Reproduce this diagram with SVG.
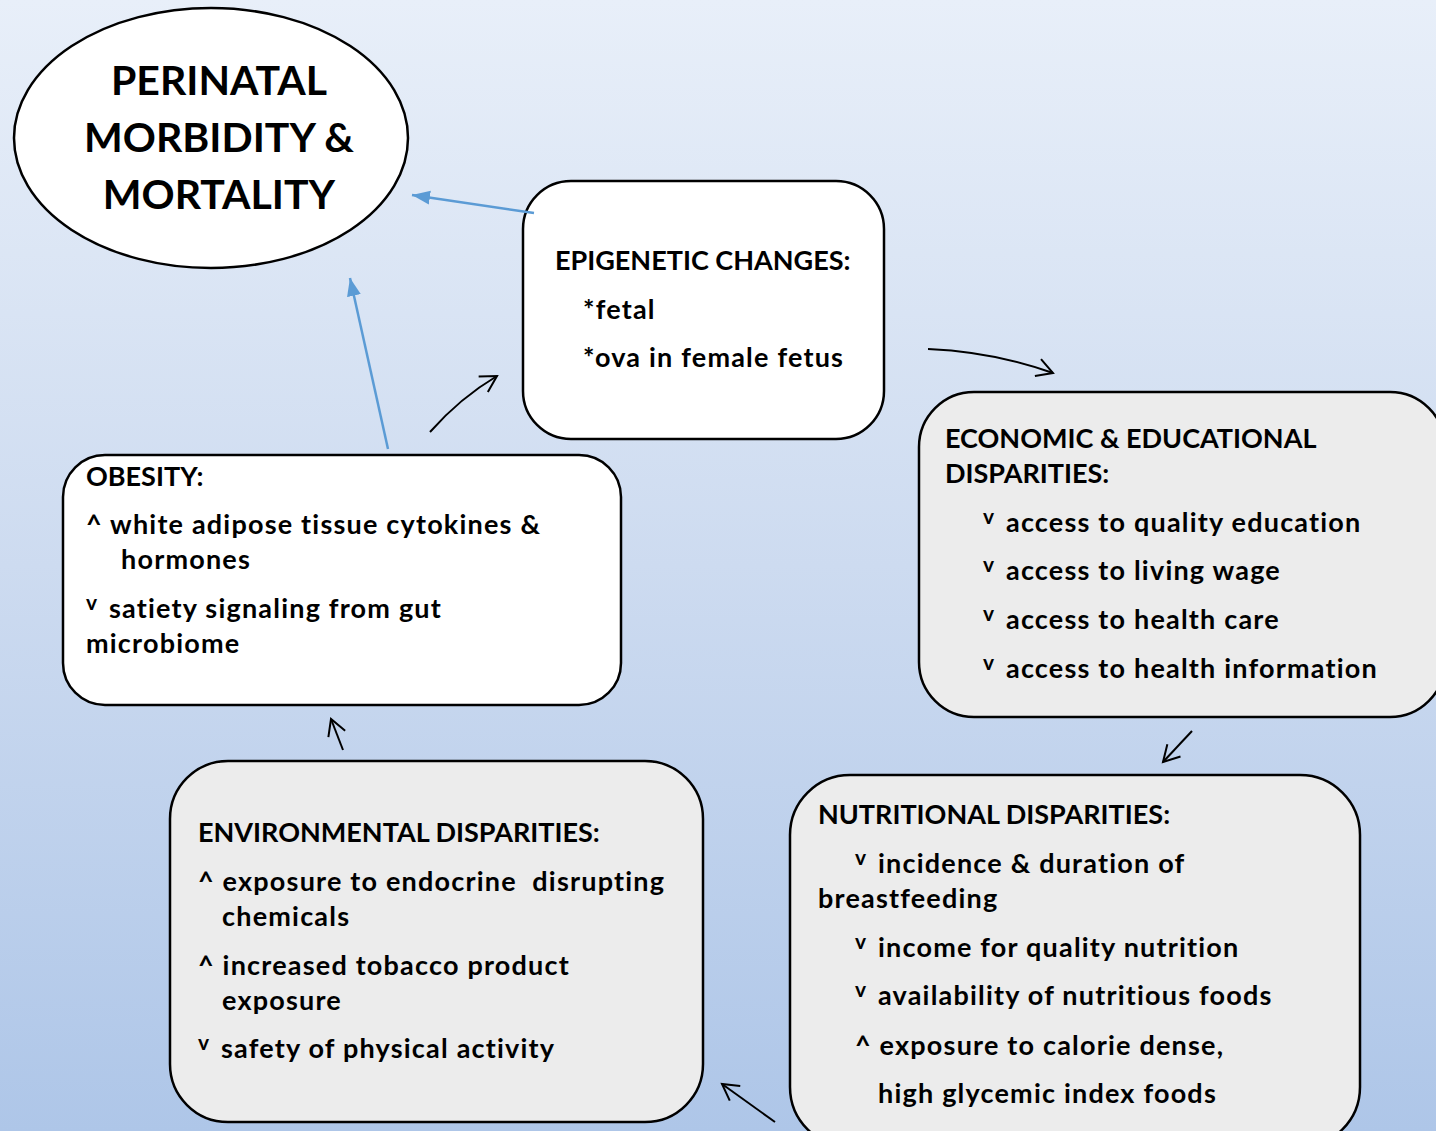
<svg xmlns="http://www.w3.org/2000/svg" width="1436" height="1131" viewBox="0 0 1436 1131">
<defs>
<linearGradient id="bg" x1="0" y1="0" x2="0" y2="1">
<stop offset="0" stop-color="#e8eff9"/>
<stop offset="0.5" stop-color="#cddbf0"/>
<stop offset="1" stop-color="#aec6e8"/>
</linearGradient>
<marker id="blueHead" markerUnits="userSpaceOnUse" markerWidth="20" markerHeight="16" refX="18" refY="8" orient="auto">
<path d="M0,1 L18,8 L0,15 Z" fill="#5b9bd5"/>
</marker>
<marker id="openHead" markerUnits="userSpaceOnUse" markerWidth="24" markerHeight="24" refX="20" refY="12" orient="auto">
<path d="M4,3 L20,12 L4,21" fill="none" stroke="#000" stroke-width="2"/>
</marker>
<style>
.t{font-family:Lato,"Open Sans","Liberation Sans",sans-serif;font-weight:bold;fill:#000;font-size:27px;letter-spacing:1.2px}
.h{letter-spacing:0}
.title{font-size:41px;text-anchor:middle;letter-spacing:0}
.sym{font-size:21px;letter-spacing:0}
.box{stroke:#000;stroke-width:2.5}
.white{fill:#fff}
.gray{fill:#ececec}
.blue{stroke:#5b9bd5;stroke-width:2.5;fill:none;marker-end:url(#blueHead)}
.blk{stroke:#000;stroke-width:2;fill:none;marker-end:url(#openHead)}
</style>
</defs>
<rect x="0" y="0" width="1436" height="1131" fill="url(#bg)"/>
<g id="perinatal">
<ellipse cx="211" cy="138" rx="197" ry="130" class="box white"/>
<text class="t title" x="219" y="95">PERINATAL</text>
<text class="t title" x="219" y="152">MORBIDITY &amp;</text>
<text class="t title" x="219" y="209">MORTALITY</text>
</g>
<g id="epigenetic">
<rect x="523" y="181" width="361" height="258" rx="48" class="box white"/>
<text class="t h" x="555" y="270">EPIGENETIC CHANGES:</text>
<text class="t" x="583" y="319">*fetal</text>
<text class="t" x="583" y="367">*ova in female fetus</text>
</g>
<g id="economic">
<rect x="919" y="392" width="526" height="325" rx="55" class="box gray" stroke-width="2"/>
<text class="t h" x="945" y="448">ECONOMIC &amp; EDUCATIONAL</text>
<text class="t h" x="945" y="483">DISPARITIES:</text>
<text class="t sym" x="983" y="524">v</text>
<text class="t" x="1006" y="532">access to quality education</text>
<text class="t sym" x="983" y="572">v</text>
<text class="t" x="1006" y="580">access to living wage</text>
<text class="t sym" x="983" y="621">v</text>
<text class="t" x="1006" y="629">access to health care</text>
<text class="t sym" x="983" y="670">v</text>
<text class="t" x="1006" y="678">access to health information</text>
</g>
<g id="obesity">
<rect x="63" y="455" width="558" height="250" rx="42" class="box white" stroke-width="3.5"/>
<text class="t h" x="86" y="486">OBESITY:</text>
<text class="t" x="86" y="534">^ white adipose tissue cytokines &amp;</text>
<text class="t" x="121" y="569">hormones</text>
<text class="t sym" x="86" y="610">v</text>
<text class="t" x="109" y="618">satiety signaling from gut</text>
<text class="t" x="86" y="653">microbiome</text>
</g>
<g id="environmental">
<rect x="170" y="761" width="533" height="361" rx="58" class="box gray"/>
<text class="t h" x="198" y="842">ENVIRONMENTAL DISPARITIES:</text>
<text class="t" x="198" y="891" xml:space="preserve">^ exposure to endocrine  disrupting</text>
<text class="t" x="222" y="926">chemicals</text>
<text class="t" x="198" y="975">^ increased tobacco product</text>
<text class="t" x="222" y="1010">exposure</text>
<text class="t sym" x="198" y="1050">v</text>
<text class="t" x="221" y="1058">safety of physical activity</text>
</g>
<g id="nutritional">
<rect x="790" y="775" width="570" height="372" rx="60" class="box gray"/>
<text class="t h" x="818" y="824">NUTRITIONAL DISPARITIES:</text>
<text class="t sym" x="855" y="865">v</text>
<text class="t" x="878" y="873">incidence &amp; duration of</text>
<text class="t" x="818" y="908">breastfeeding</text>
<text class="t sym" x="855" y="949">v</text>
<text class="t" x="878" y="957">income for quality nutrition</text>
<text class="t sym" x="855" y="997">v</text>
<text class="t" x="878" y="1005">availability of nutritious foods</text>
<text class="t" x="855" y="1055">^ exposure to calorie dense,</text>
<text class="t" x="878" y="1103">high glycemic index foods</text>
</g>
<g id="connectors">
<path class="blue" d="M534,213 L412,195"/>
<path class="blue" d="M388,449 L350,278"/>
<path class="blk" d="M430,432 Q460,398 497,376"/>
<path class="blk" d="M928,349 Q995,352 1053,373"/>
<path class="blk" d="M1192,731 L1163,762"/>
<path class="blk" d="M775,1122 L722,1084"/>
<path class="blk" d="M343,750 L331,719"/>
</g>
</svg>
